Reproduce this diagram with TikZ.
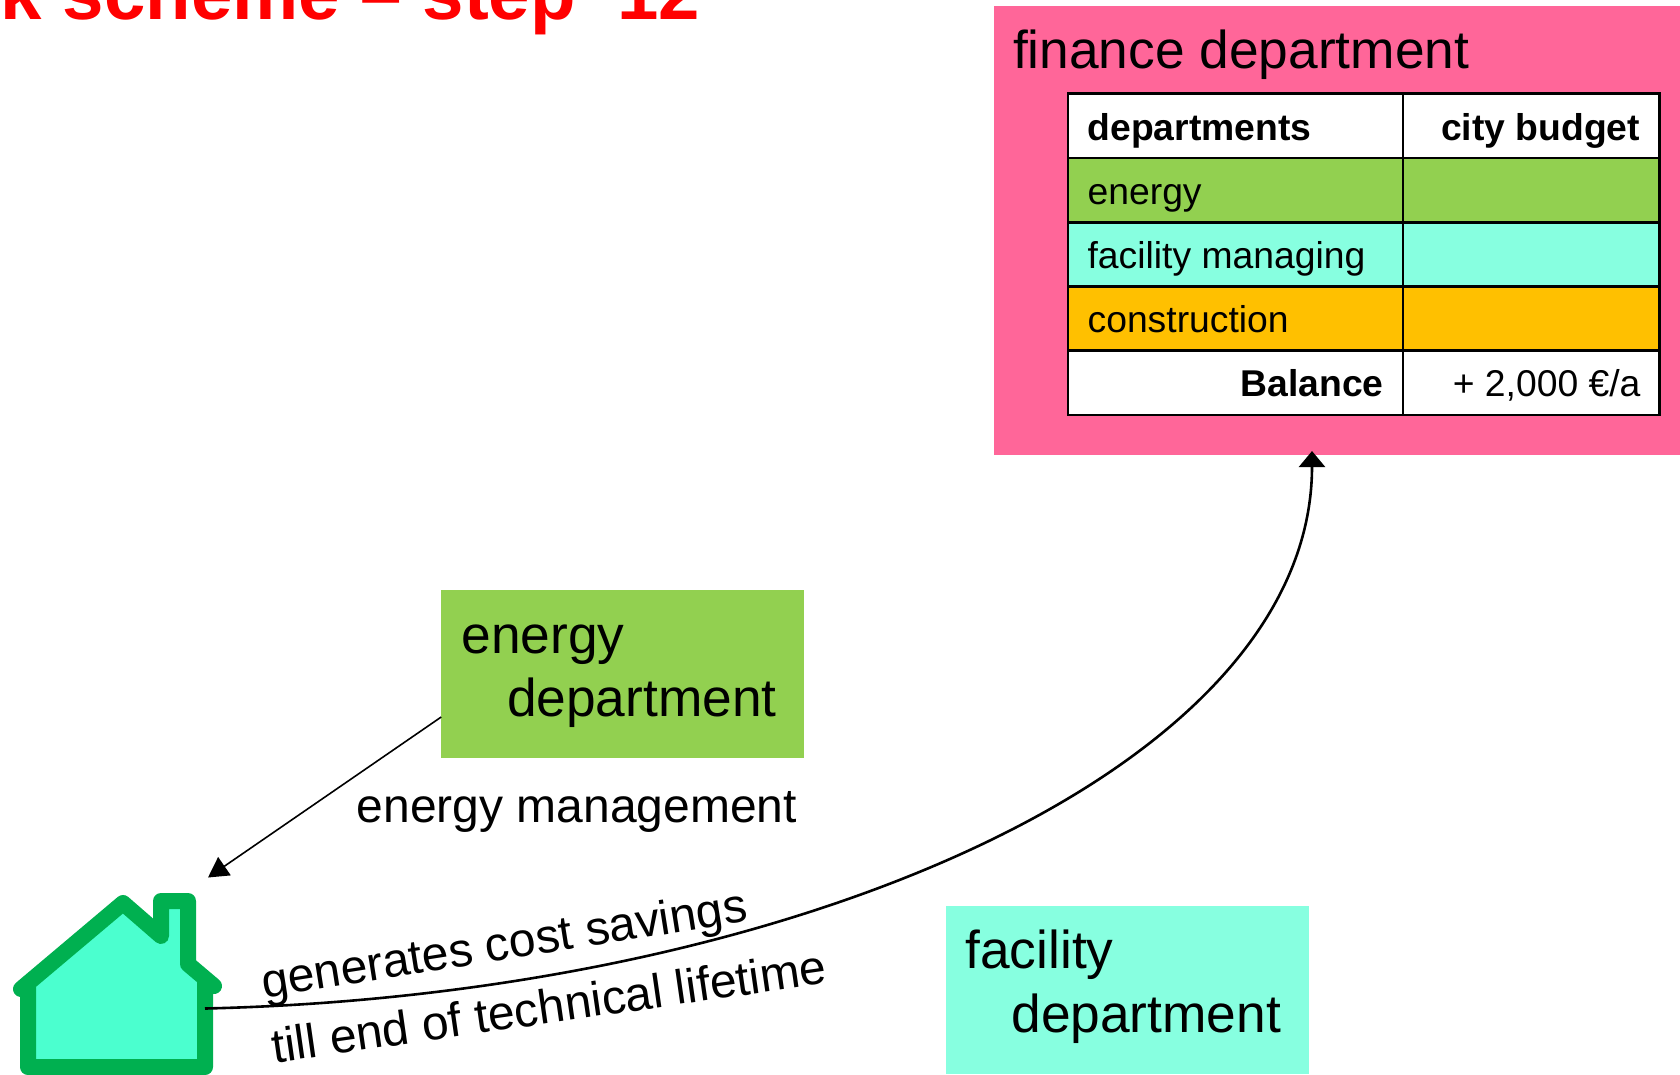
\documentclass[tikz,border=0pt]{standalone}
\usepackage{fontspec}
\setmainfont{Liberation Sans}
\usetikzlibrary{arrows.meta}
\definecolor{pinkbox}{HTML}{FF6699}
\definecolor{greenbox}{HTML}{92D050}
\definecolor{aquabox}{HTML}{87FFE0}
\definecolor{orangebox}{HTML}{FFC000}
\definecolor{housefill}{HTML}{4BFFCF}
\definecolor{houseline}{HTML}{00B050}
\newcommand{\bigtxt}{\fontsize{53.3}{60}\selectfont}
\newcommand{\midtxt}{\fontsize{48}{54}\selectfont}
\newcommand{\smalltxt}{\fontsize{37.3}{42}\selectfont}
\tikzset{
  box/.style={anchor=north west,inner sep=0pt,outer sep=0pt,minimum width=#1},
  cell/.style={draw=black,line width=2.6pt,anchor=north west,inner sep=0pt,outer sep=0pt},
  txt/.style={anchor=base west,inner sep=0pt,outer sep=0pt,font=#1},
  txtr/.style={anchor=base east,inner sep=0pt,outer sep=0pt,font=#1}
}
\begin{document}
\begin{tikzpicture}[x=1pt,y=-1pt]
\useasboundingbox (0,0) rectangle (1680,1074);
\clip (0,0) rectangle (1680,1074);
\fill[white] (0,0) rectangle (1680,1074);
% title
\node[txt=\bfseries,text=red] (title) at (1,19.5) {\fontsize{74.4}{80}\selectfont k scheme – step\ \ 12};
% finance
\node[box=686pt,minimum height=449pt,fill=pinkbox] (finance) at (994,6) {};
\node[txt=\bigtxt] (financelabel) at (1013,68.5) {finance department};
% table
\node[cell,fill=white,minimum width=335pt,minimum height=64.3pt] (c11) at (1068,93.7) {};
\node[cell,fill=white,minimum width=256.5pt,minimum height=64.3pt] (c12) at (1403,93.7) {};
\node[cell,fill=greenbox,minimum width=335pt,minimum height=64.4pt] (c21) at (1068,158) {};
\node[cell,fill=greenbox,minimum width=256.5pt,minimum height=64.4pt] (c22) at (1403,158) {};
\node[cell,fill=aquabox,minimum width=335pt,minimum height=64pt] (c31) at (1068,222.3) {};
\node[cell,fill=aquabox,minimum width=256.5pt,minimum height=64pt] (c32) at (1403,222.3) {};
\node[cell,fill=orangebox,minimum width=335pt,minimum height=64pt] (c41) at (1068,286.3) {};
\node[cell,fill=orangebox,minimum width=256.5pt,minimum height=64pt] (c42) at (1403,286.3) {};
\node[cell,fill=white,minimum width=335pt,minimum height=64.7pt] (c51) at (1068,350.3) {};
\node[cell,fill=white,minimum width=256.5pt,minimum height=64.7pt] (c52) at (1403,350.3) {};
\node[txt=\smalltxt\bfseries] (t11) at (1087.6,140) {departments};
\node[txtr=\smalltxt\bfseries] (t12) at (1640,140) {city budget};
\node[txt=\smalltxt] (t21) at (1087.6,204) {energy};
\node[txt=\smalltxt] (t31) at (1087.6,268) {facility managing};
\node[txt=\smalltxt] (t41) at (1087.6,332.5) {construction};
\node[txtr=\smalltxt\bfseries] (t51) at (1383.5,396.5) {Balance};
\node[txtr=\smalltxt] (t52) at (1640.5,396.5) {+ 2,000 €/a};
% energy department
\node[box=362.4pt,minimum height=168pt,fill=greenbox] (energy) at (441.2,590) {};
\node[txt=\bigtxt] (e1) at (461.5,653) {energy};
\node[txt=\bigtxt] (e2) at (507,716.5) {department};
\node[txt=\midtxt] (emlabel) at (356.8,822.5) {energy management};
% facility department
\node[box=363.2pt,minimum height=168pt,fill=aquabox] (facility) at (946,906) {};
\node[txt=\bigtxt] (f1) at (965.4,968.5) {facility};
\node[txt=\bigtxt] (f2) at (1011.4,1032.5) {department};
% house
\draw[fill=housefill,draw=houseline,line width=16pt,line join=round]
  (28,1067) -- (28,984) -- (21,989) -- (123,903) -- (161,936) -- (161,901) -- (188,901)
  -- (188,964) -- (214,986) -- (205,982) -- (205,1067) -- cycle;
\coordinate (housedoor) at (205,1008.5);
\coordinate (energyout) at (441.2,717);
\coordinate (houseroof) at (208,877.5);
\coordinate (financein) at (1312,451);
\draw[line width=1.6pt,-{Triangle[length=20pt,width=22pt]}] (energyout) -- (houseroof);
\draw[line width=2.6pt,-{Triangle[length=16pt,width=26pt]}] (housedoor)
  .. controls (790,995) and (1312,770) .. (financein);
% rotated labels
\node[txt=\midtxt,rotate=9] (l1) at (264,998) {generates cost savings};
\node[txt=\midtxt,rotate=8.2] (l2) at (274,1063) {till end of technical lifetime};
\end{tikzpicture}
\end{document}
